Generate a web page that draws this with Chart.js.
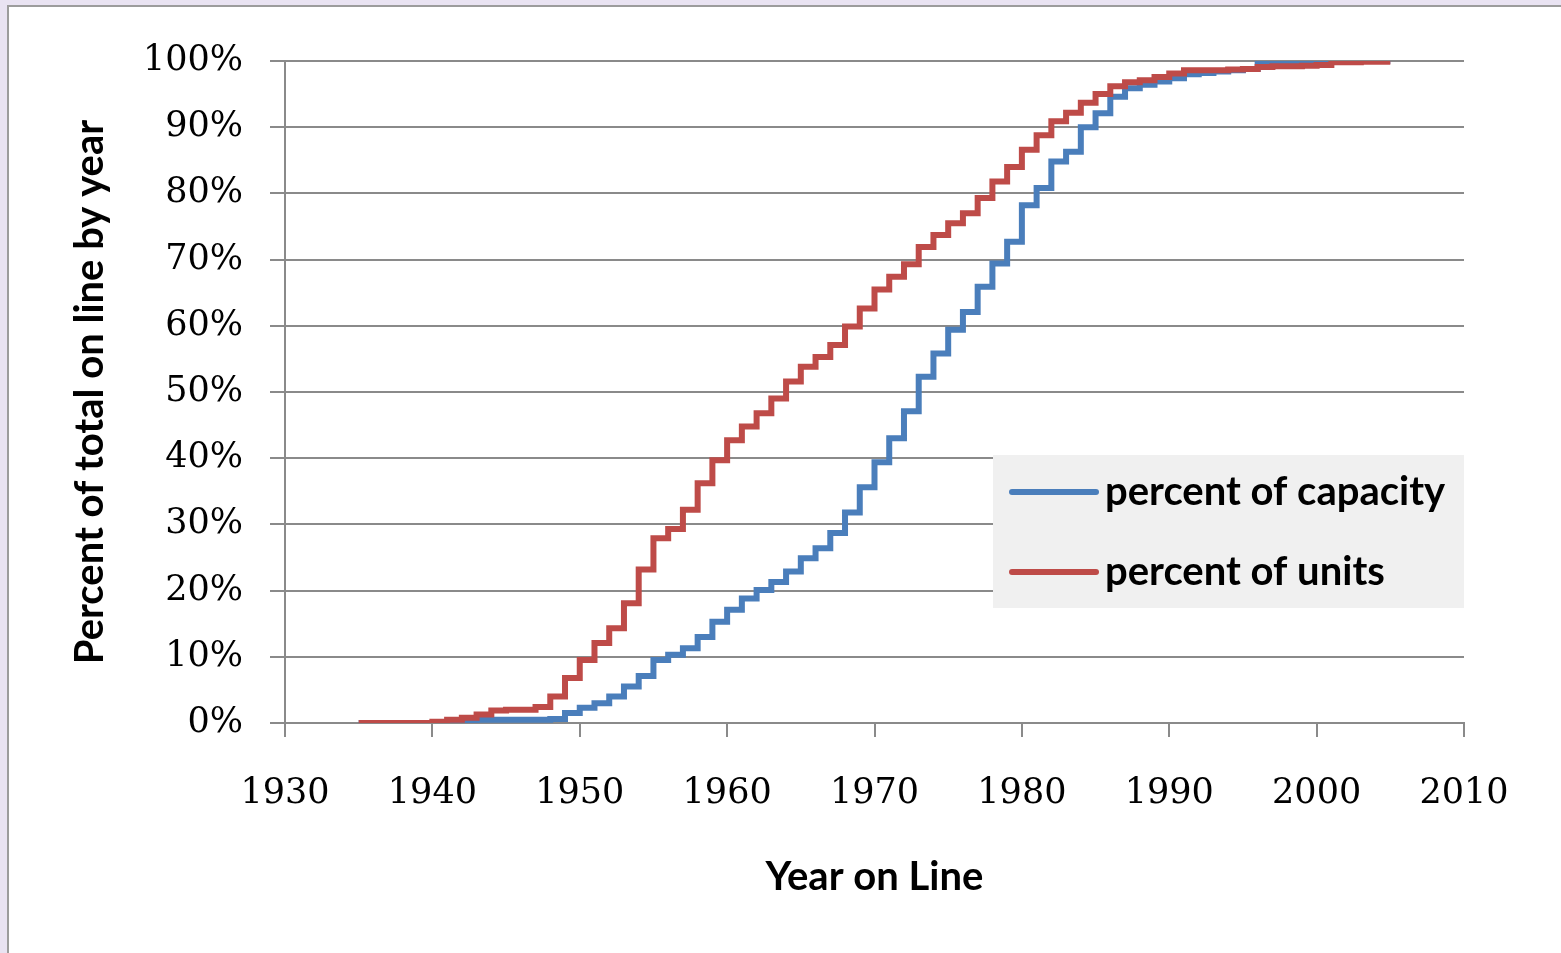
<!DOCTYPE html>
<html>
<head>
<meta charset="utf-8">
<script src="https://cdn.jsdelivr.net/npm/chart.js@4/dist/chart.umd.min.js"></script>
<style>
  html, body { margin: 0; padding: 0; width: 1561px; height: 953px; overflow: hidden; background: #e9e3f2; }
  #frame { position: absolute; left: 7px; top: 5px; width: 1554px; height: 948px; background: #ffffff;
           border-left: 2px solid #9c9c9c; border-top: 2px solid #9c9c9c; box-sizing: border-box; }
  #wrap { position: absolute; left: 0; top: 0; width: 1561px; height: 953px; }
</style>
</head>
<body>
<div id="frame"></div>
<div id="wrap"><canvas id="c"></canvas></div>
<script>
const years = [1935,1936,1937,1938,1939,1940,1941,1942,1943,1944,1945,1946,1947,1948,1949,
  1950,1951,1952,1953,1954,1955,1956,1957,1958,1959,1960,1961,1962,1963,1964,1965,1966,1967,1968,1969,
  1970,1971,1972,1973,1974,1975,1976,1977,1978,1979,1980,1981,1982,1983,1984,1985,1986,1987,1988,1989,
  1990,1991,1992,1993,1994,1995,1996,1997,1998,1999,2000,2001,2002,2003,2004,2005];

const percentOfCapacity = [0,0,0,0,0,0,0.1,0.4,0.5,0.5,0.5,0.5,0.5,0.6,1.5,
  2.3,3.0,4.0,5.5,7.1,9.5,10.3,11.3,13.0,15.3,17.1,18.8,20.1,21.3,22.9,24.9,26.4,28.7,31.8,35.6,
  39.4,43.0,47.1,52.3,55.8,59.4,62.1,65.9,69.4,72.7,78.2,80.8,84.8,86.3,90.0,92.1,94.6,95.9,96.4,96.9,
  97.4,98.0,98.2,98.4,98.6,98.8,100,100,100,100,100,100,100,100,100,100];

const percentOfUnits = [0,0,0,0,0,0.2,0.5,0.8,1.3,1.9,2.0,2.0,2.4,4.0,6.8,
  9.5,12.1,14.3,18.1,23.2,27.9,29.3,32.2,36.2,39.7,42.7,44.8,46.8,49.0,51.6,53.8,55.3,57.1,59.9,62.6,
  65.5,67.4,69.3,71.9,73.7,75.5,77.0,79.3,81.8,84.0,86.6,88.8,90.9,92.2,93.7,95.0,96.2,96.8,97.1,97.6,
  98.1,98.6,98.6,98.6,98.7,98.8,99.1,99.2,99.2,99.3,99.4,99.8,99.8,99.9,99.9,99.9];

const seriesNames = ['percent of capacity', 'percent of units'];
const seriesColors = ['#4a7ebb', '#be4b48'];
const xTicks = [1930, 1940, 1950, 1960, 1970, 1980, 1990, 2000, 2010];
const yTicks = [0,10,20,30,40,50,60,70,80,90,100];
const xTitle = 'Year on Line';
const yTitle = 'Percent of total on line by year';

const sansBold = { family: 'Lato, "Open Sans", sans-serif', weight: 'bold' };
const serif = { family: '"DejaVu Serif", "Liberation Serif", serif', size: 35 };

const legendBox = {
  id: 'legendBox',
  afterDatasetsDraw(chart) {
    const ctx = chart.ctx;
    const area = chart.chartArea;
    const x0 = 993, x1 = area.right;
    const y0 = 455, y1 = 608;
    ctx.save();
    ctx.fillStyle = '#f0f0f0';
    ctx.fillRect(x0, y0, x1 - x0, y1 - y0);
    const rows = [492, 572];
    chart.data.datasets.forEach((ds, i) => {
      const y = rows[i];
      ctx.strokeStyle = ds.borderColor;
      ctx.lineWidth = 6;
      ctx.lineCap = 'round';
      ctx.beginPath();
      ctx.moveTo(1012, y);
      ctx.lineTo(1096, y);
      ctx.stroke();
      ctx.fillStyle = '#000000';
      ctx.font = 'bold 40px Lato, "Open Sans", sans-serif';
      ctx.textBaseline = 'middle';
      ctx.textAlign = 'left';
      ctx.fillText(ds.label, 1105, y);
    });
    ctx.restore();
  }
};

const datasets = [percentOfCapacity, percentOfUnits].map((vals, i) => ({
  label: seriesNames[i],
  data: years.map((yr, j) => ({ x: yr, y: vals[j] })),
  borderColor: seriesColors[i],
  backgroundColor: seriesColors[i],
  borderWidth: 6,
  pointRadius: 0,
  stepped: true,
  fill: false,
  borderJoinStyle: 'miter',
  order: i === 1 ? 0 : 1
}));

new Chart(document.getElementById('c'), {
  type: 'line',
  data: { datasets },
  plugins: [legendBox],
  options: {
    responsive: true,
    maintainAspectRatio: false,
    animation: false,
    layout: { padding: { left: 0, top: 61, right: 97, bottom: 0 } },
    plugins: { legend: { display: false }, tooltip: { enabled: false } },
    scales: {
      x: {
        type: 'linear',
        min: 1930, max: 2010,
        afterFit(scale) { scale.height = 230; },
        afterBuildTicks(scale) { scale.ticks = xTicks.map(v => ({ value: v })); },
        ticks: { color: '#000', font: serif, padding: 36, maxRotation: 0, callback: v => String(v) },
        grid: { drawOnChartArea: false, color: '#8a8a8a', lineWidth: 2, tickLength: 14, tickColor: '#8a8a8a' },
        border: { color: '#8a8a8a', width: 2 },
        title: { display: true, text: xTitle, color: '#000', font: Object.assign({ size: 40 }, sansBold), padding: { top: 0, bottom: 52 } }
      },
      y: {
        min: 0, max: 100,
        afterFit(scale) { scale.width = 285; },
        afterBuildTicks(scale) { scale.ticks = yTicks.map(v => ({ value: v })); },
        ticks: { color: '#000', font: serif, padding: 27, callback: v => v + '%' },
        grid: { color: '#8a8a8a', lineWidth: 2, tickLength: 15, tickColor: '#8a8a8a' },
        border: { color: '#8a8a8a', width: 2 },
        title: { display: true, text: yTitle, color: '#000', font: Object.assign({ size: 40 }, sansBold), padding: { top: 66, bottom: 0 } }
      }
    }
  }
});
</script>
</body>
</html>
